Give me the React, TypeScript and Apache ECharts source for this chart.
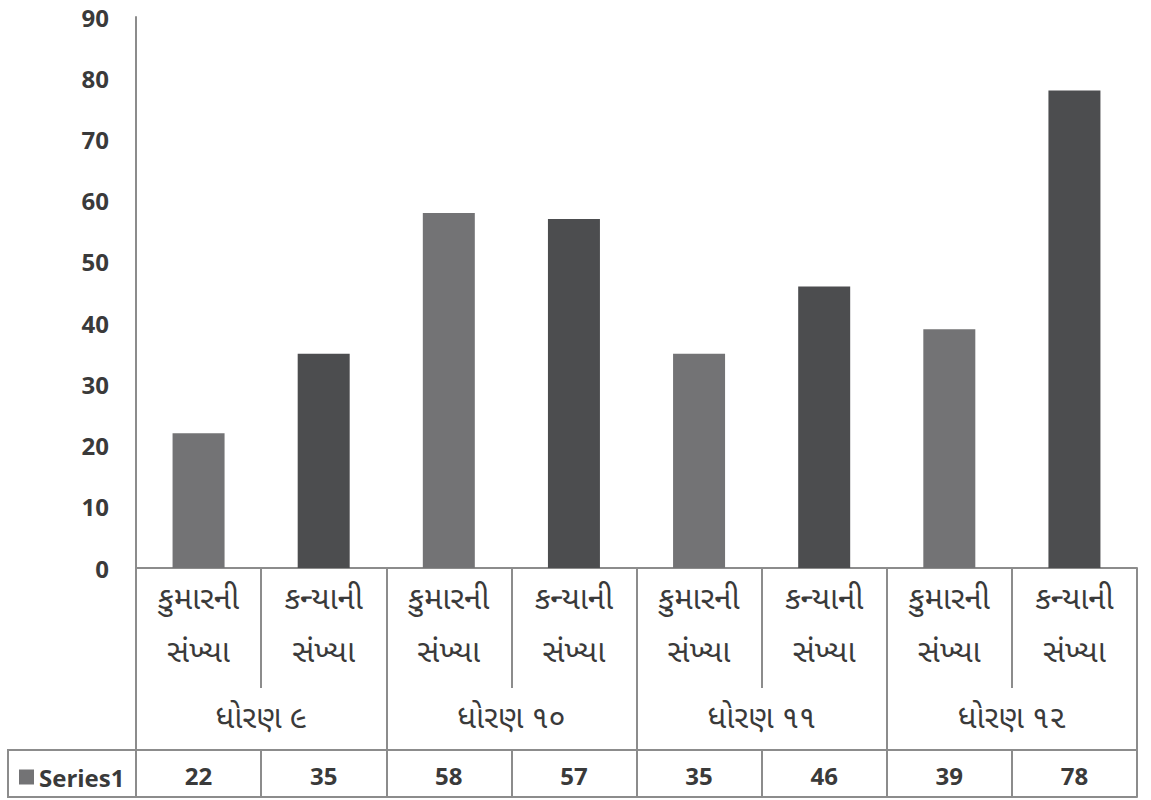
import React, { useEffect, useRef } from "react";
import * as echarts from "echarts";

const subCategories = [
  "કુમારની\nસંખ્યા", "કન્યાની\nસંખ્યા",
  "કુમારની\nસંખ્યા", "કન્યાની\nસંખ્યા",
  "કુમારની\nસંખ્યા", "કન્યાની\nસંખ્યા",
  "કુમારની\nસંખ્યા", "કન્યાની\nસંખ્યા",
];
const groups = ["ધોરણ ૯", "ધોરણ ૧૦", "ધોરણ ૧૧", "ધોરણ ૧૨"];
const values = [22, 35, 58, 57, 35, 46, 39, 78];
const seriesName = "Series1";
const yTicks = { min: 0, max: 90, interval: 10 };

const LIGHT = "#737375";
const DARK = "#4c4d4f";
const LINE = "#8c8c8c";
const TEXT = "#3a3a3a";
const FONT = "'Open Sans', 'Noto Sans', 'Noto Sans Gujarati', 'Lohit Gujarati', sans-serif";

export default function App() {
  const ref = useRef<HTMLDivElement>(null);
  useEffect(() => {
    if (!ref.current) return;
    const chart = echarts.init(ref.current, undefined, { renderer: "svg" });
    const grid = { left: 136, right: 14, top: 17, bottom: 232 };
    chart.setOption({
      animation: false,
      backgroundColor: "#ffffff",
      grid,
      legend: {
        show: true,
        left: 14,
        top: 760,
        icon: "rect",
        itemWidth: 15,
        itemHeight: 15,
        itemGap: 4,
        selectedMode: false,
        textStyle: { fontFamily: FONT, fontWeight: "bold", fontSize: 24, color: TEXT },
        data: [seriesName],
      },
      xAxis: [
        {
          type: "category",
          data: subCategories,
          position: "bottom",
          axisLine: { show: true, lineStyle: { color: LINE, width: 2 } },
          axisTick: { show: true, interval: 0, length: 120, lineStyle: { color: LINE, width: 2 } },
          axisLabel: {
            interval: 0,
            margin: 2,
            fontFamily: FONT,
            fontSize: 31,
            lineHeight: 53,
            color: TEXT,
          },
        },
        {
          type: "category",
          data: groups,
          position: "bottom",
          axisLine: { show: false },
          axisTick: { show: true, interval: 0, length: 229, lineStyle: { color: LINE, width: 2 } },
          axisLabel: {
            interval: 0,
            margin: 130,
            fontFamily: FONT,
            fontSize: 31,
            lineHeight: 36,
            color: TEXT,
          },
        },
        {
          type: "category",
          data: values.map(String),
          position: "bottom",
          offset: 182,
          axisLine: { show: true, lineStyle: { color: LINE, width: 2 } },
          axisTick: { show: true, interval: 0, length: 47, lineStyle: { color: LINE, width: 2 } },
          axisLabel: {
            interval: 0,
            margin: 11,
            fontFamily: FONT,
            fontWeight: "bold",
            fontSize: 24,
            lineHeight: 28,
            color: TEXT,
          },
        },
        {
          type: "category",
          data: values.map(String),
          position: "bottom",
          offset: 229,
          axisLine: { show: true, lineStyle: { color: LINE, width: 2 } },
          axisTick: { show: false },
          axisLabel: { show: false },
        },
      ],
      yAxis: {
        type: "value",
        min: yTicks.min,
        max: yTicks.max,
        interval: yTicks.interval,
        axisLine: { show: true, lineStyle: { color: LINE, width: 2 } },
        axisTick: { show: false },
        splitLine: { show: false },
        axisLabel: {
          margin: 27,
          fontFamily: FONT,
          fontWeight: "bold",
          fontSize: 24,
          lineHeight: 26,
          color: TEXT,
        },
      },
      graphic: [
        {
          type: "rect",
          shape: { x: 8, y: 750, width: 128, height: 47 },
          style: { fill: "none", stroke: LINE, lineWidth: 2 },
          silent: true,
        },
      ],
      series: [
        {
          name: seriesName,
          type: "bar",
          xAxisIndex: 0,
          barWidth: 52,
          itemStyle: { color: LIGHT },
          data: values.map((v, i) => ({
            value: v,
            itemStyle: { color: i % 2 === 0 ? LIGHT : DARK },
          })),
        },
      ],
    });
    return () => chart.dispose();
  }, []);
  return (
    <div
      ref={ref}
      style={{ position: "fixed", left: 0, top: 0, width: 1151, height: 800 }}
    />
  );
}
